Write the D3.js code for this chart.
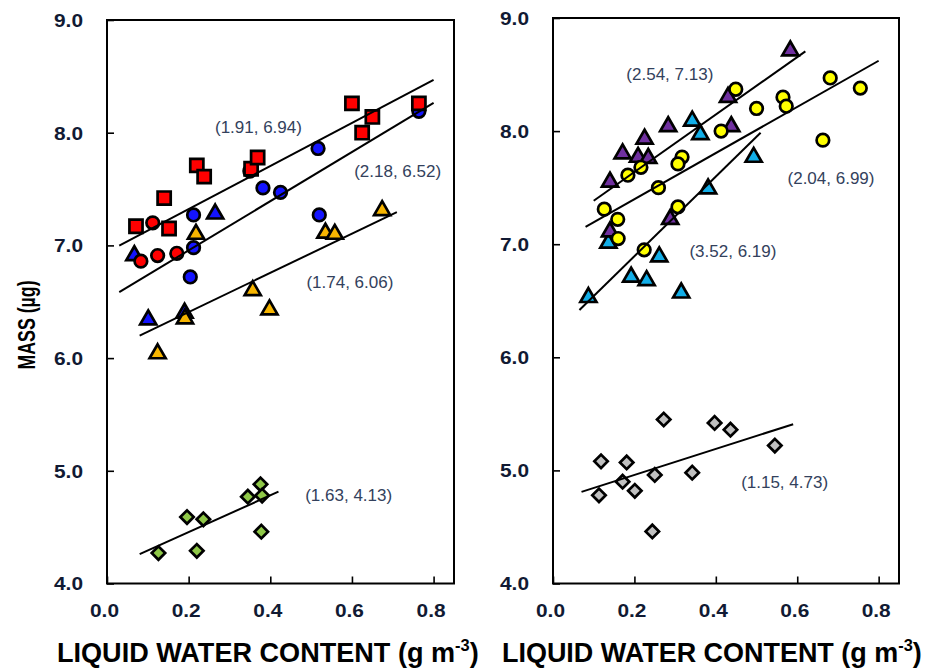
<!DOCTYPE html>
<html><head><meta charset="utf-8">
<script src="https://cdn.jsdelivr.net/npm/d3@7/dist/d3.min.js"></script>
<style>html,body{margin:0;padding:0;background:#fff;}svg{display:block;}</style>
</head><body>
<svg id="c" width="928" height="671"></svg>
<script>
// ---------- data (x = liquid water content g m-3, y = mass µg) ----------
const xTicks = [0, 0.2, 0.4, 0.6, 0.8];
const yTicks = [4, 5, 6, 7, 8, 9];
const xTitle = "LIQUID WATER CONTENT (g m";
const yTitle = "MASS (µg)";

// left panel
const redSquares = [[0.071,7.17],[0.140,7.42],[0.152,7.15],[0.220,7.71],[0.238,7.61],[0.353,7.68],[0.369,7.78],[0.600,8.26],[0.625,8.00],[0.650,8.14],[0.764,8.26]];
const redCircles = [[0.083,6.86],[0.112,7.20],[0.124,6.91],[0.171,6.93],[0.350,7.66]];
const blueCircles = [[0.212,7.27],[0.212,6.98],[0.204,6.72],[0.382,7.51],[0.425,7.47],[0.517,7.86],[0.520,7.27],[0.764,8.19]];
const blueTriangles = [[0.067,6.91],[0.101,6.34],[0.190,6.40],[0.265,7.28]];
const orangeTriangles = [[0.218,7.10],[0.357,6.60],[0.535,7.11],[0.558,7.10],[0.674,7.31],[0.398,6.43],[0.191,6.35],[0.124,6.04]];
const greenDiamonds = [[0.126,4.27],[0.196,4.59],[0.220,4.29],[0.236,4.57],[0.345,4.77],[0.376,4.88],[0.380,4.78],[0.378,4.46]];

// right panel
const purpleTriangles = [[0.583,8.71],[0.430,8.30],[0.438,8.04],[0.283,8.04],[0.225,7.93],[0.171,7.80],[0.209,7.77],[0.234,7.76],[0.140,7.55],[0.288,7.22],[0.140,7.11]];
const cyanTriangles = [[0.342,8.09],[0.362,7.97],[0.493,7.77],[0.381,7.49],[0.136,7.01],[0.261,6.89],[0.192,6.71],[0.230,6.68],[0.315,6.57],[0.087,6.53]];
const yellowCircles = [[0.449,8.37],[0.681,8.47],[0.755,8.38],[0.565,8.30],[0.573,8.22],[0.500,8.20],[0.413,8.00],[0.663,7.92],[0.317,7.77],[0.307,7.71],[0.216,7.68],[0.184,7.61],[0.259,7.50],[0.307,7.33],[0.126,7.31],[0.159,7.22],[0.160,7.05],[0.224,6.95]];
const greyDiamonds = [[0.118,5.08],[0.113,4.78],[0.181,5.07],[0.171,4.90],[0.201,4.82],[0.250,4.96],[0.244,4.46],[0.272,5.45],[0.342,4.98],[0.397,5.42],[0.436,5.36],[0.545,5.22]];

// regression lines: slope, intercept, x-range, label anchor (data units)
const leftSlopes = [1.91, 2.18, 1.74, 1.63];
const leftIntercepts = [6.94, 6.52, 6.06, 4.13];
const leftFitRange = [[0.03,0.80],[0.03,0.80],[0.08,0.71],[0.08,0.42]];
const leftLabelAt = [[0.371,8.05],[0.712,7.66],[0.595,6.68],[0.592,4.79]];

const rightSlopes = [2.54, 2.04, 3.52, 1.15];
const rightIntercepts = [7.13, 6.99, 6.19, 4.73];
const rightFitRange = [[0.10,0.62],[0.08,0.80],[0.065,0.51],[0.07,0.59]];
const rightLabelAt = [[0.287,8.51],[0.683,7.59],[0.442,6.94],[0.569,4.90]];

// ---------- drawing ----------
const svg = d3.select("#c");
const FONT = "'Liberation Sans', Arial, Helvetica, sans-serif";

const sym = {
  circle: d3.symbol().type(d3.symbolCircle).size(124),
  square: d3.symbol().type(d3.symbolSquare).size(172),
  triangle: d3.symbol().type(d3.symbolTriangle).size(112),
  diamond: d3.symbol().type(d3.symbolSquare).size(90)
};

function panel(opts) {
  const x = d3.scaleLinear().domain([0, 0.85]).range([opts.left, opts.right]);
  const y = d3.scaleLinear().domain([4, 9]).range([opts.bottom, opts.top]);
  const g = svg.append("g");

  // axes with inward ticks
  const ax = g.append("g").attr("transform", `translate(0,${opts.bottom})`)
    .call(d3.axisBottom(x).tickValues(xTicks).tickFormat(d3.format(".1f")).tickSizeInner(-7).tickSizeOuter(0));
  ax.select(".domain").remove();
  ax.selectAll(".tick line").attr("stroke", "#000").attr("stroke-width", 1.6);
  ax.selectAll(".tick text").attr("y", 0).attr("dy", 0).attr("transform", "translate(-3,33)")
    .attr("font-family", FONT).attr("font-weight", "bold").attr("font-size", 18)
    .attr("fill", "#111a33").attr("textLength", 29).attr("lengthAdjust", "spacingAndGlyphs");

  const ay = g.append("g").attr("transform", `translate(${opts.left},0)`)
    .call(d3.axisLeft(y).tickValues(yTicks).tickFormat(d3.format(".1f")).tickSizeInner(-7).tickSizeOuter(0));
  ay.select(".domain").remove();
  ay.selectAll(".tick line").attr("stroke", "#000").attr("stroke-width", 1.6);
  ay.selectAll(".tick text").attr("x", -24).attr("dy", "0.36em")
    .attr("font-family", FONT).attr("font-weight", "bold").attr("font-size", 18)
    .attr("fill", "#111a33").attr("textLength", 29).attr("lengthAdjust", "spacingAndGlyphs");

  // frame
  g.append("rect").attr("x", opts.left).attr("y", opts.top)
    .attr("width", opts.right - opts.left).attr("height", opts.bottom - opts.top)
    .attr("fill", "none").attr("stroke", "#000").attr("stroke-width", 2);

  // markers
  opts.series.forEach(s => {
    g.append("g").selectAll("path").data(s.data).join("path")
      .attr("d", sym[s.shape]())
      .attr("transform", d => `translate(${x(d[0])},${y(d[1])})` + (s.shape === "diamond" ? " rotate(45)" : ""))
      .attr("fill", s.color).attr("stroke", "#000").attr("stroke-width", 2.7)
      .attr("stroke-linejoin", "miter");
  });

  // fit lines
  opts.slopes.forEach((m, i) => {
    const b = opts.intercepts[i], r = opts.ranges[i];
    g.append("line")
      .attr("x1", x(r[0])).attr("y1", y(b + m * r[0]))
      .attr("x2", x(r[1])).attr("y2", y(b + m * r[1]))
      .attr("stroke", "#000").attr("stroke-width", 2);
    const la = opts.labels[i];
    g.append("text").attr("x", x(la[0])).attr("y", y(la[1])).attr("dy", "0.36em")
      .attr("text-anchor", "middle").attr("font-family", FONT).attr("font-size", 17)
      .attr("fill", "#33415c")
      .text(`(${m.toFixed(2)}, ${b.toFixed(2)})`);
  });

  // x title, horizontally condensed to fit
  const t = g.append("text").attr("font-family", FONT).attr("font-weight", "bold")
    .attr("font-size", 28).attr("fill", "#000");
  t.append("tspan").text(xTitle);
  t.append("tspan").attr("font-size", 17).attr("dy", -11).text("-3");
  t.append("tspan").attr("dy", 11).text(")");
  const w = t.node().getComputedTextLength();
  t.attr("transform", `translate(${opts.titleX},662) scale(${opts.titleW / w},1)`);
  return {x, y};
}

panel({
  left: 107, right: 454, top: 20, bottom: 583.5,
  titleX: 57, titleW: 422,
  series: [
    {data: blueTriangles, shape: "triangle", color: "#1414ff"},
    {data: orangeTriangles, shape: "triangle", color: "#f7b500"},
    {data: blueCircles, shape: "circle", color: "#1414ff"},
    {data: redCircles, shape: "circle", color: "#ff0000"},
    {data: redSquares, shape: "square", color: "#ff0000"},
    {data: greenDiamonds, shape: "diamond", color: "#8fc848"}
  ],
  slopes: leftSlopes, intercepts: leftIntercepts, ranges: leftFitRange, labels: leftLabelAt
});

panel({
  left: 553, right: 899, top: 18, bottom: 583.5,
  titleX: 502, titleW: 420,
  series: [
    {data: cyanTriangles, shape: "triangle", color: "#12aee8"},
    {data: purpleTriangles, shape: "triangle", color: "#7030a0"},
    {data: yellowCircles, shape: "circle", color: "#ffff00"},
    {data: greyDiamonds, shape: "diamond", color: "#c0c0c0"}
  ],
  slopes: rightSlopes, intercepts: rightIntercepts, ranges: rightFitRange, labels: rightLabelAt
});

// y title (condensed bold, rotated)
svg.append("g").attr("transform", "translate(35,325) rotate(-90) scale(0.74,1)")
  .append("text").attr("x", 0).attr("y", 0)
  .style("font-family", FONT).style("font-weight", "bold").style("font-size", "24px")
  .attr("fill", "#000").attr("text-anchor", "middle")
  .text(yTitle);
</script>
</body></html>
